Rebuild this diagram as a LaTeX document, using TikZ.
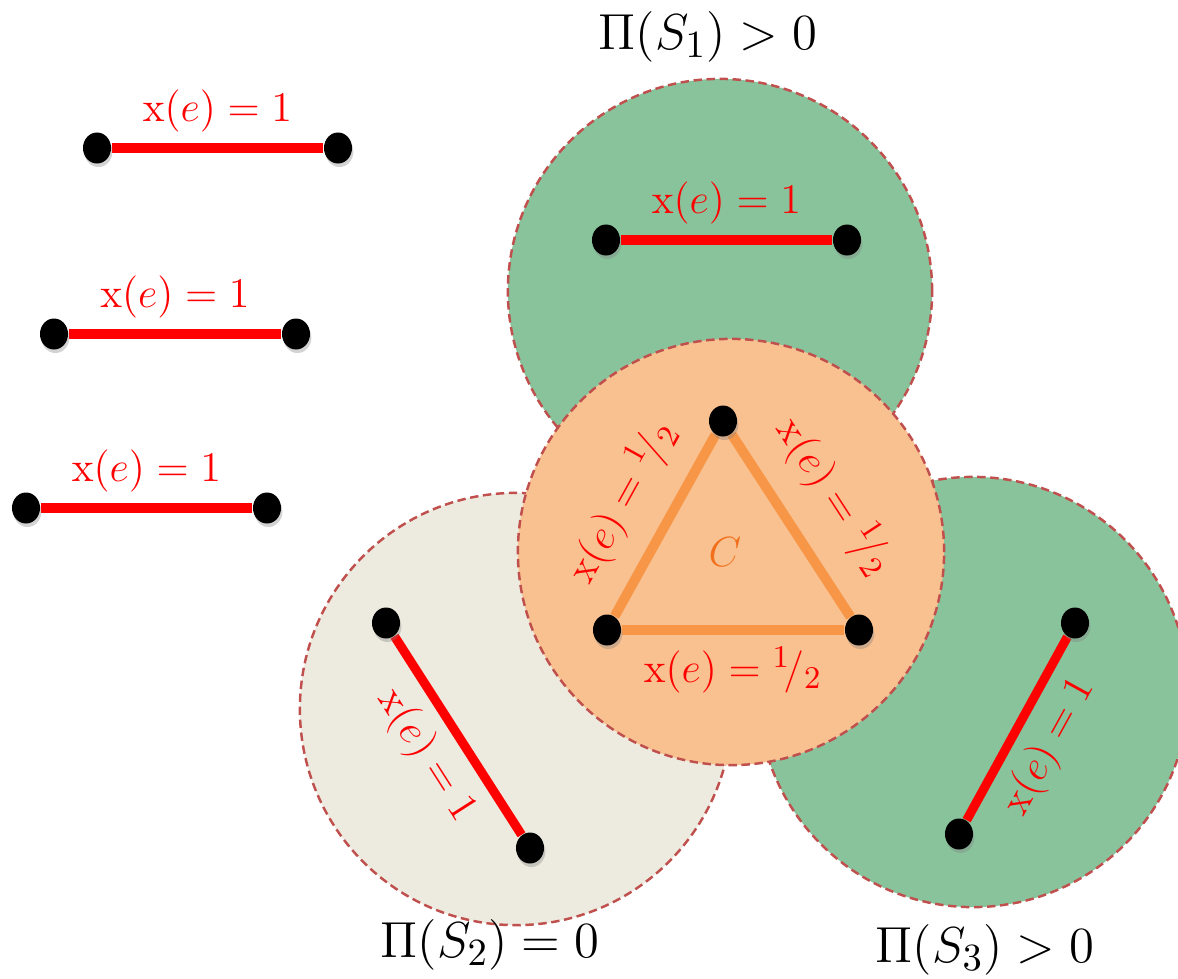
\documentclass[tikz,border=0pt]{standalone}
\usetikzlibrary{shapes.geometric,shadows}

\definecolor{discgreen}{RGB}{137,195,156}
\definecolor{discbeige}{RGB}{237,235,224}
\definecolor{discorange}{RGB}{249,192,144}
\definecolor{rimred}{RGB}{192,80,77}
\definecolor{triorange}{RGB}{247,150,70}
\definecolor{clabel}{RGB}{242,112,28}

\newcommand{\halfval}{{}^{1}\!\big/{}_{2}}

\pgfdeclarelayer{back}
\pgfsetlayers{back,main}

\tikzset{
  vtx/.style={ellipse,fill=black,minimum width=0.28cm,minimum height=0.31cm,inner sep=0pt,
    drop shadow={shadow xshift=0.4pt,shadow yshift=-1pt,opacity=0.35}},
  region/.style={draw=rimred,line width=0.7pt,dash pattern=on 2.4pt off 1.3pt},
  fulledge/.style={red,line width=2.6pt},
  halfedge/.style={triorange,line width=2.8pt},
  lbl/.style={text=red,font=\fontsize{12.5}{14}\selectfont},
  ptitle/.style={font=\fontsize{15}{18}\selectfont}
}

\begin{document}
\begin{tikzpicture}[x=0.01cm,y=-0.01cm]
    \useasboundingbox (0,0) rectangle (1178,978);

    % Regions
    \begin{pgfonlayer}{back}
    \filldraw[region,fill=discgreen] (720,291) circle (2.12cm);
    \filldraw[region,fill=discbeige] (516,709) circle (2.16cm);
    \filldraw[region,fill=discgreen] (973,692) circle (2.15cm);
    \filldraw[region,fill=discorange] (731,552) circle (2.13cm);
    \end{pgfonlayer}

    % Vertices
    \node[vtx] (a1) at (97,148) {};
    \node[vtx] (a2) at (338,148) {};
    \node[vtx] (b1) at (54,334) {};
    \node[vtx] (b2) at (296,334) {};
    \node[vtx] (c1) at (26,508) {};
    \node[vtx] (c2) at (267,508) {};
    \node[vtx] (s1a) at (606,240) {};
    \node[vtx] (s1b) at (847,240) {};
    \node[vtx] (s2a) at (386,623) {};
    \node[vtx] (s2b) at (530,848) {};
    \node[vtx] (s3a) at (959,834) {};
    \node[vtx] (s3b) at (1075,623) {};
    \node[vtx] (ct) at (723,421) {};
    \node[vtx] (cl) at (607,630) {};
    \node[vtx] (cr) at (859,630) {};

    % Edges
    \begin{pgfonlayer}{back}
    \draw[fulledge] (a1) -- (a2) node[lbl,midway,above] {$\mathrm{x}(e)=1$};
    \draw[fulledge] (b1) -- (b2) node[lbl,midway,above] {$\mathrm{x}(e)=1$};
    \draw[fulledge] (c1) -- (c2) node[lbl,midway,above] {$\mathrm{x}(e)=1$};
    \draw[fulledge] (s1a) -- (s1b) node[lbl,midway,above] {$\mathrm{x}(e)=1$};
    \draw[fulledge] (s2a) -- (s2b) node[lbl,midway,below,sloped] {$\mathrm{x}(e)=1$};
    \draw[fulledge] (s3a) -- (s3b) node[lbl,midway,below,sloped] {$\mathrm{x}(e)=1$};
    \draw[halfedge] (cl) -- (ct) node[lbl,midway,above,sloped,inner sep=6pt] {$\mathrm{x}(e)=\halfval$};
    \draw[halfedge] (ct) -- (cr) node[lbl,midway,above,sloped,inner sep=7pt] {$\mathrm{x}(e)=\halfval$};
    \draw[halfedge] (cl) -- (cr) node[lbl,midway,below] {$\mathrm{x}(e)=\halfval$};
    \end{pgfonlayer}

    \node[text=clabel,font=\fontsize{13}{15}\selectfont] (cname) at (725,552) {$C$};

    % Titles
    \node[ptitle] (p1) at (708,37) {$\Pi(S_1)>0$};
    \node[ptitle] (p2) at (490,945) {$\Pi(S_2)=0$};
    \node[ptitle] (p3) at (985,950) {$\Pi(S_3)>0$};
\end{tikzpicture}
\end{document}
